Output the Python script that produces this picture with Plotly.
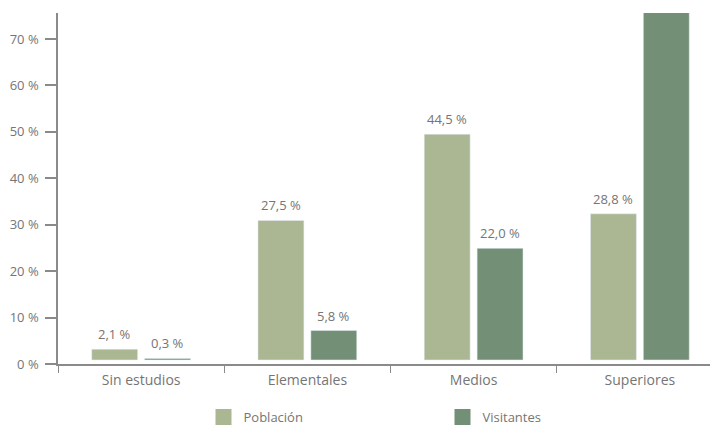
import plotly.graph_objects as go

categories = ["Sin estudios", "Elementales", "Medios", "Superiores"]
poblacion = [2.1, 27.5, 44.5, 28.8]
visitantes = [0.3, 5.8, 22.0, 71.9]
series_names = ["Población", "Visitantes"]
tick_values = [0, 10, 20, 30, 40, 50, 60, 70]
tick_labels = [f"{t} %" for t in tick_values]

COL_POB = "#abb693"
COL_VIS = "#738f75"
TEXT = "#757575"
AXIS = "#8a8a8a"
FONT = "Open Sans"

# page body has an 8px default margin; the figure is sized to fill the rest
W, H = 710, 418
ML, MR, MT, MB = 50, 0, 5, 62
BARGAP = 0.364
BARGROUPGAP = 0.132
Y_RANGE = [0, 75.6]        # scale of the printed tick axis
Y2_RANGE = [-0.8, 68.4]    # scale used by the bars in the original
X_RANGE = [-0.5, 3.47]

fig = go.Figure()
fig.add_trace(go.Bar(x=categories, y=poblacion, name=series_names[0],
                     marker_color=COL_POB, yaxis="y2", showlegend=False))
fig.add_trace(go.Bar(x=categories, y=visitantes, name=series_names[1],
                     marker_color=COL_VIS, yaxis="y2", showlegend=False))
# legend swatches
for nm, col in zip(series_names, [COL_POB, COL_VIS]):
    fig.add_trace(go.Scatter(x=[None], y=[None], mode="markers", name=nm,
                             marker=dict(symbol="square", size=18, color=col)))

half = (1 - BARGAP) / 4
annotations = []
for i in range(len(categories)):
    for off, vals in ((-half, poblacion), (half, visitantes)):
        v = vals[i]
        if v <= Y2_RANGE[1]:
            annotations.append(dict(
                x=i + off, y=v, xref="x", yref="y2",
                text=f"{v:.1f}".replace(".", ",") + " %",
                showarrow=False, yanchor="middle", yshift=15,
                font=dict(family=FONT, size=13, color=TEXT)))

fig.update_layout(
    width=W, height=H,
    margin=dict(l=ML, r=MR, t=MT, b=MB),
    paper_bgcolor="white", plot_bgcolor="white",
    barmode="group", bargap=BARGAP, bargroupgap=BARGROUPGAP,
    font=dict(family=FONT, size=12, color=TEXT),
    xaxis=dict(type="category", range=X_RANGE, tickson="boundaries",
               ticks="outside", ticklen=7, tickcolor=AXIS, tickwidth=1,
               showline=True, linecolor=AXIS, linewidth=1.5,
               showgrid=False, zeroline=False, ticklabelstandoff=2,
               tickfont=dict(family=FONT, size=14, color=TEXT)),
    yaxis=dict(range=Y_RANGE, tickvals=tick_values, ticktext=tick_labels,
               ticks="outside", ticklen=11, tickcolor=AXIS, tickwidth=1.5,
               showline=True, linecolor=AXIS, linewidth=1.5,
               showgrid=False, zeroline=False, ticklabelstandoff=4,
               tickfont=dict(family=FONT, size=13, color=TEXT)),
    yaxis2=dict(range=Y2_RANGE, overlaying="y", visible=False),
    legend=dict(orientation="h", xref="container", yref="container",
                x=195.5 / W, y=1 - 409 / H, xanchor="left", yanchor="middle",
                entrywidth=194, entrywidthmode="pixels",
                font=dict(family=FONT, size=13, color=TEXT),
                itemsizing="trace"),
    annotations=annotations,
)

fig.write_html("out.html")
